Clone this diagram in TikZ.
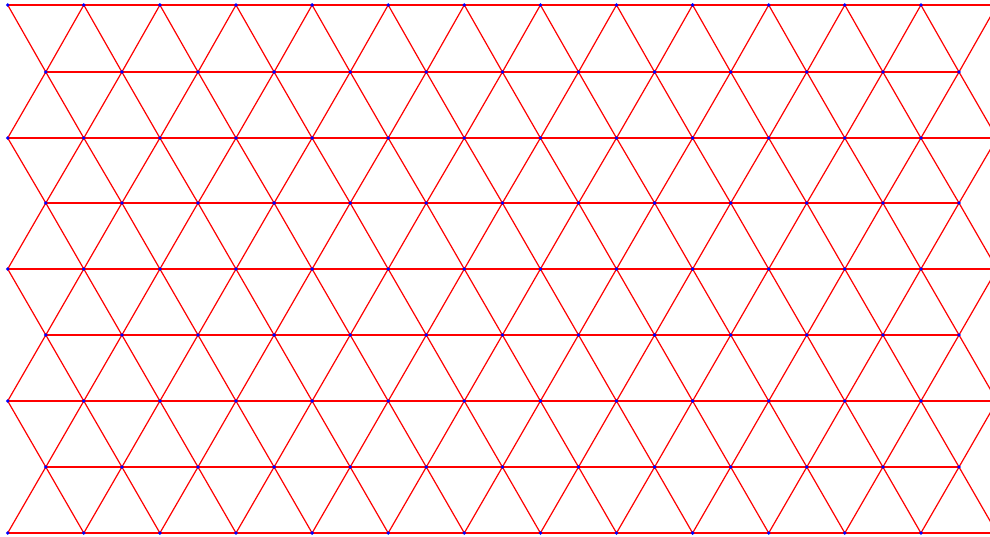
\documentclass[tikz,border=0pt]{standalone}
\begin{document}
\begin{tikzpicture}[x=1pt,y=-1pt,
  edge/.style={draw=red,line width=1.2pt},
  vdot/.style={fill=blue,circle,inner sep=0pt,minimum size=3.8pt}]
\useasboundingbox (0,0) rectangle (990,537);
\clip (0,0) rectangle (990,537);
\fill[white] (0,0) rectangle (990,537);
% vertices
\foreach \r/\yy in {0/5,2/138,4/269,6/401,8/533}{
  \foreach \k in {0,...,13}{
    \coordinate (v-\r-\k) at ({7.7+76.1*\k},\yy);
  }
}
\foreach \r/\yy in {1/72,3/203,5/335,7/467}{
  \foreach \k in {0,...,12}{
    \coordinate (v-\r-\k) at ({45.8+76.1*\k},\yy);
  }
}
% horizontal edges
\foreach \r in {0,2,4,6,8}{
  \draw[edge] (v-\r-0) \foreach \k in {1,...,13}{ -- (v-\r-\k)};
}
\foreach \r in {1,3,5,7}{
  \draw[edge] (v-\r-0) \foreach \k in {1,...,12}{ -- (v-\r-\k)};
}
% diagonal edges
\foreach \r [evaluate=\r as \u using int(\r-1), evaluate=\r as \d using int(\r+1)] in {1,3,5,7}{
  \foreach \k [evaluate=\k as \n using int(\k+1)] in {0,...,12}{
    \draw[edge] (v-\u-\k) -- (v-\r-\k) -- (v-\d-\k);
    \draw[edge] (v-\u-\n) -- (v-\r-\k) -- (v-\d-\n);
  }
}
% dots
\foreach \r in {0,2,4,6,8}{
  \foreach \k in {0,...,12}{
    \node[vdot] (d-\r-\k) at (v-\r-\k) {};
  }
}
\foreach \r in {1,3,5,7}{
  \foreach \k in {0,...,12}{
    \node[vdot] (d-\r-\k) at (v-\r-\k) {};
  }
}
\end{tikzpicture}
\end{document}
